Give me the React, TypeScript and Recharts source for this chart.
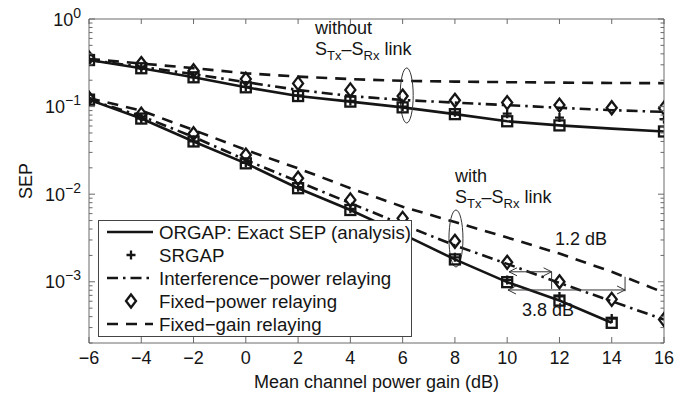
import React from 'react';
import { ComposedChart, Line, XAxis, YAxis, Legend, ReferenceDot, ReferenceLine } from 'recharts';

// ---------- data ----------
const gainDb = [-6, -4, -2, 0, 2, 4, 6, 8, 10, 12, 14, 16];

// without S_Tx-S_Rx link (upper group)
const orgapWithout = [0.34, 0.274, 0.216, 0.166, 0.132, 0.114, 0.098, 0.082, 0.068, 0.061, 0.056, 0.052];
const orgapSimWithout = [0.34, 0.274, 0.216, 0.166, 0.132, 0.114, 0.098, 0.082, 0.068, 0.061, null, 0.052];
const srgapWithout = [0.34, 0.274, 0.216, 0.168, 0.134, 0.116, 0.1, 0.086, 0.083, 0.075, null, 0.072];
const interfWithout = [0.34, 0.285, 0.235, 0.19, 0.155, 0.132, 0.119, 0.111, 0.104, 0.097, 0.091, 0.087];
const fixedPowWithout = [0.36, 0.31, 0.257, 0.206, 0.184, 0.155, 0.132, 0.118, 0.111, 0.104, 0.097, 0.096];
const fixedGainWithout = [0.35, 0.31, 0.275, 0.24, 0.22, 0.206, 0.197, 0.193, 0.19, 0.188, 0.186, 0.185];

// with S_Tx-S_Rx link (lower group)
const orgapWith = [0.12, 0.073, 0.04, 0.0225, 0.0117, 0.0066, 0.0035, 0.0018, 0.00099, 0.00061, 0.00034, null];
const orgapSimWith = [0.12, 0.073, 0.04, 0.0225, 0.0117, 0.0066, 0.0035, 0.0018, 0.00099, 0.00061, 0.00034, null];
const srgapWith = [0.12, 0.073, 0.04, 0.0228, 0.012, 0.0068, 0.0036, 0.0019, 0.00105, 0.00068, 0.00038, null];
const interfWith = [0.12, 0.078, 0.045, 0.0246, 0.0139, 0.0079, 0.0045, 0.0026, 0.0016, 0.00097, 0.0006, 0.00037];
const fixedPowWith = [0.125, 0.082, 0.049, 0.028, 0.0152, 0.0086, 0.0053, 0.0029, 0.00167, 0.001, 0.00063, 0.00037];
const fixedGainWith = [0.125, 0.09, 0.054, 0.032, 0.0197, 0.0117, 0.0072, 0.0048, 0.0032, 0.0021, 0.0013, 0.00075];

// ---------- ticks ----------
const xTicks = [-6, -4, -2, 0, 2, 4, 6, 8, 10, 12, 14, 16];
const xTickLabels = ['\u22126', '\u22124', '\u22122', '0', '2', '4', '6', '8', '10', '12', '14', '16'];
const yMajorTicks = [1, 0.1, 0.01, 0.001];
const yMajorExponents = ['0', '\u22121', '\u22122', '\u22123'];
const yMinorTicks = [
  0.0002, 0.0003, 0.0004, 0.0005, 0.0006, 0.0007, 0.0008, 0.0009,
  0.002, 0.003, 0.004, 0.005, 0.006, 0.007, 0.008, 0.009,
  0.02, 0.03, 0.04, 0.05, 0.06, 0.07, 0.08, 0.09,
  0.2, 0.3, 0.4, 0.5, 0.6, 0.7, 0.8, 0.9,
];
const yTicks = [...yMinorTicks, ...yMajorTicks];
const yDomain = [0.0002, 1];
const xDomain = [-6, 16];

const data = gainDb.map((x, i) => ({
  x,
  orgapWithout: orgapWithout[i],
  orgapSimWithout: orgapSimWithout[i],
  srgapWithout: srgapWithout[i],
  interfWithout: interfWithout[i],
  fixedPowWithout: fixedPowWithout[i],
  fixedGainWithout: fixedGainWithout[i],
  orgapWith: orgapWith[i],
  orgapSimWith: orgapSimWith[i],
  srgapWith: srgapWith[i],
  interfWith: interfWith[i],
  fixedPowWith: fixedPowWith[i],
  fixedGainWith: fixedGainWith[i],
}));

// ---------- styles ----------
const FONT = '"Liberation Sans", Arial, Helvetica, sans-serif';
const INK = '#151515';
const FRAME = '#6a6a6a';
const LW = 2.6;
const MW = 2.3;
const DASH = '11 8';
const DASHDOT = '11 5 2.5 5';

const majorIndex = (v: number) => yMajorTicks.findIndex((m) => Math.abs(m - v) / m < 1e-6);

const LeftTick = (props: any) => {
  const { x, y, payload } = props;
  const mi = majorIndex(payload.value);
  const major = mi >= 0;
  return (
    <g>
      <line x1={x} x2={x + (major ? 6 : 3.5)} y1={y} y2={y} stroke={FRAME} strokeWidth={1} />
      {major && (
        <text x={x - 8} y={y + 6.5} textAnchor="end" fontFamily={FONT} fontSize={18} fill={INK}>
          10
          <tspan dy={-8} fontSize={14}>{yMajorExponents[mi]}</tspan>
        </text>
      )}
    </g>
  );
};

const RightTick = (props: any) => {
  const { x, y, payload } = props;
  const major = majorIndex(payload.value) >= 0;
  return <line x1={x} x2={x - (major ? 6 : 3.5)} y1={y} y2={y} stroke={FRAME} strokeWidth={1} />;
};

const BottomTick = (props: any) => {
  const { x, y, payload } = props;
  const idx = xTicks.indexOf(payload.value);
  return (
    <g>
      <line x1={x} x2={x} y1={y} y2={y - 6} stroke={FRAME} strokeWidth={1} />
      <text x={x} y={y + 20.5} textAnchor="middle" fontFamily={FONT} fontSize={18} fill={INK}>
        {xTickLabels[idx]}
      </text>
    </g>
  );
};

const TopTick = (props: any) => {
  const { x, y } = props;
  return <line x1={x} x2={x} y1={y} y2={y + 5} stroke={FRAME} strokeWidth={1} />;
};

// ---------- markers ----------
const squareDot = (p: any) => {
  const { cx, cy, index } = p;
  if (cx == null || cy == null || isNaN(cy)) return <g key={`sq-${index}`} />;
  return (
    <rect key={`sq-${index}`} x={cx - 5} y={cy - 5} width={10} height={10} fill="none" stroke={INK} strokeWidth={MW} />
  );
};
const plusDot = (p: any) => {
  const { cx, cy, index } = p;
  if (cx == null || cy == null || isNaN(cy)) return <g key={`pl-${index}`} />;
  return (
    <path key={`pl-${index}`} d={`M${cx - 4.5},${cy}H${cx + 4.5}M${cx},${cy - 4.5}V${cy + 4.5}`} stroke={INK} strokeWidth={MW} fill="none" />
  );
};
const diamondDot = (p: any) => {
  const { cx, cy, index } = p;
  if (cx == null || cy == null || isNaN(cy)) return <g key={`dm-${index}`} />;
  return (
    <path key={`dm-${index}`} d={`M${cx},${cy - 6.5}L${cx + 5},${cy}L${cx},${cy + 6.5}L${cx - 5},${cy}Z`} stroke={INK} strokeWidth={MW} fill="none" />
  );
};

// ---------- annotations ----------
const linkLabel = (first: string) => (p: any) => (
  <text x={p.cx} y={p.cy} fontFamily={FONT} fontSize={18} fill={INK}>
    <tspan x={p.cx}>{first}</tspan>
    <tspan x={p.cx} dy={21}>S</tspan>
    <tspan dy={5} fontSize={13}>Tx</tspan>
    <tspan dy={-5}>–S</tspan>
    <tspan dy={5} fontSize={13}>Rx</tspan>
    <tspan dy={-5}> link</tspan>
  </text>
);
const plainText = (label: string) => (p: any) => (
  <text x={p.cx} y={p.cy} fontFamily={FONT} fontSize={18} fill={INK}>
    {label}
  </text>
);

const ellipseShape = (rx: number, ry: number) => (p: any) => (
  <ellipse cx={p.cx} cy={p.cy} rx={rx} ry={ry} fill="none" stroke="#333" strokeWidth={1} />
);

const arrowShape = (p: any) => {
  const { x1, y1, x2, y2 } = p;
  return (
    <g stroke="#333" strokeWidth={1} fill="none">
      <line x1={x1} y1={y1} x2={x2} y2={y2} />
      <polyline points={`${x1 + 8},${y1 - 4} ${x1},${y1} ${x1 + 8},${y1 + 4}`} />
      <polyline points={`${x2 - 8},${y2 - 4} ${x2},${y2} ${x2 - 8},${y2 + 4}`} />
    </g>
  );
};
const plainShape = (p: any) => (
  <line x1={p.x1} y1={p.y1} x2={p.x2} y2={p.y2} stroke="#333" strokeWidth={1} />
);

// ---------- legend ----------
const legendRows = [
  { label: 'ORGAP: Exact SEP (analysis)', kind: 'solid' },
  { label: 'SRGAP', kind: 'plus' },
  { label: 'Interference\u2212power relaying', kind: 'dashdot' },
  { label: 'Fixed\u2212power relaying', kind: 'diamond' },
  { label: 'Fixed\u2212gain relaying', kind: 'dash' },
];

const LegendBox = () => (
  <svg width={314} height={117} style={{ display: 'block' }}>
    <rect x={0.5} y={0.5} width={313} height={116} fill="#fff" stroke="#444" strokeWidth={1} />
    {legendRows.map((r, i) => {
      const cy = 12 + 23 * i;
      let sample: React.ReactNode = null;
      if (r.kind === 'solid') sample = <line x1={9} x2={55} y1={cy} y2={cy} stroke={INK} strokeWidth={LW} />;
      if (r.kind === 'dash') sample = <line x1={9} x2={55} y1={cy} y2={cy} stroke={INK} strokeWidth={LW} strokeDasharray={DASH} />;
      if (r.kind === 'dashdot') sample = <line x1={9} x2={55} y1={cy} y2={cy} stroke={INK} strokeWidth={LW} strokeDasharray={DASHDOT} />;
      if (r.kind === 'plus') sample = plusDot({ cx: 33, cy, index: 'lg' });
      if (r.kind === 'diamond') sample = diamondDot({ cx: 33, cy, index: 'lg' });
      return (
        <g key={r.label}>
          {sample}
          <text x={61} y={cy + 6.7} fontFamily={FONT} fontSize={18.7} fill={INK}>{r.label}</text>
        </g>
      );
    })}
  </svg>
);

export default function App() {
  const common = { isAnimationActive: false, activeDot: false as const, legendType: 'none' as const };
  return (
    <div style={{ position: 'absolute', left: 0, top: 0, width: 691, height: 396, background: '#fff' }}>
      <ComposedChart width={691} height={396} data={data} margin={{ top: 0, right: 0, bottom: 0, left: 0 }}>
        <XAxis
          dataKey="x"
          type="number"
          domain={xDomain}
          ticks={xTicks}
          interval={0}
          height={53}
          tickSize={0}
          tickMargin={0}
          tickLine={false}
          tick={<BottomTick />}
          axisLine={{ stroke: FRAME, strokeWidth: 1 }}
          allowDataOverflow
          label={{
            content: (p: any) => (
              <text
                x={p.viewBox.x + p.viewBox.width / 2}
                y={p.viewBox.y + 45}
                textAnchor="middle"
                fontFamily={FONT}
                fontSize={18}
                fill={INK}
              >
                Mean channel power gain (dB)
              </text>
            ),
          }}
        />
        <XAxis
          xAxisId="top"
          orientation="top"
          dataKey="x"
          type="number"
          domain={xDomain}
          ticks={xTicks}
          interval={0}
          height={19}
          tickSize={0}
          tickMargin={0}
          tickLine={false}
          tick={<TopTick />}
          axisLine={{ stroke: FRAME, strokeWidth: 1 }}
          allowDataOverflow
        />
        <YAxis
          type="number"
          scale="log"
          domain={yDomain}
          ticks={yTicks}
          interval={0}
          width={89}
          tickSize={0}
          tickMargin={0}
          tickLine={false}
          tick={<LeftTick />}
          axisLine={{ stroke: FRAME, strokeWidth: 1 }}
          allowDataOverflow
          label={{
            content: (p: any) => (
              <text
                transform={`translate(${p.viewBox.x + 26}, ${p.viewBox.y + p.viewBox.height / 2}) rotate(-90)`}
                textAnchor="middle"
                dominantBaseline="central"
                fontFamily={FONT}
                fontSize={18}
                fill={INK}
              >
                SEP
              </text>
            ),
          }}
        />
        <YAxis
          yAxisId="right"
          orientation="right"
          type="number"
          scale="log"
          domain={yDomain}
          ticks={yTicks}
          interval={0}
          width={27}
          tickSize={0}
          tickMargin={0}
          tickLine={false}
          tick={<RightTick />}
          axisLine={{ stroke: FRAME, strokeWidth: 1 }}
          allowDataOverflow
        />

        <Legend
          verticalAlign="middle"
          align="center"
          layout="horizontal"
          content={() => <LegendBox />}
          wrapperStyle={{ position: 'absolute', left: 98, top: 220, width: 314, height: 117 }}
        />

        {/* hidden series to bind the mirrored axes */}
        <Line {...common} xAxisId="top" yAxisId="right" dataKey="fixedGainWithout" stroke="none" dot={false} />

        {/* lines */}
        <Line {...common} dataKey="fixedGainWithout" stroke={INK} strokeWidth={LW} strokeDasharray={DASH} dot={false} />
        <Line {...common} dataKey="fixedGainWith" stroke={INK} strokeWidth={LW} strokeDasharray={DASH} dot={false} />
        <Line {...common} dataKey="interfWithout" stroke={INK} strokeWidth={LW} strokeDasharray={DASHDOT} dot={false} />
        <Line {...common} dataKey="interfWith" stroke={INK} strokeWidth={LW} strokeDasharray={DASHDOT} dot={false} />
        <Line {...common} dataKey="orgapWithout" stroke={INK} strokeWidth={LW} dot={false} />
        <Line {...common} dataKey="orgapWith" stroke={INK} strokeWidth={LW} dot={false} />

        {/* markers */}
        <Line {...common} dataKey="orgapSimWithout" stroke="none" dot={squareDot} />
        <Line {...common} dataKey="orgapSimWith" stroke="none" dot={squareDot} />
        <Line {...common} dataKey="srgapWithout" stroke="none" dot={plusDot} />
        <Line {...common} dataKey="srgapWith" stroke="none" dot={plusDot} />
        <Line {...common} dataKey="fixedPowWithout" stroke="none" dot={diamondDot} />
        <Line {...common} dataKey="fixedPowWith" stroke="none" dot={diamondDot} />

        {/* annotations */}
        <ReferenceDot x={2.647} y={0.68} r={1} shape={linkLabel('without')} />
        <ReferenceDot x={6.155} y={0.134} r={1} shape={ellipseShape(6.5, 27.5)} />
        <ReferenceDot x={8.004} y={0.0136} r={1} shape={linkLabel('with')} />
        <ReferenceDot x={8.04} y={0.00312} r={1} shape={ellipseShape(7, 28.5)} />
        <ReferenceDot x={11.83} y={0.00263} r={1} shape={plainText('1.2 dB')} />
        <ReferenceDot x={10.57} y={0.000407} r={1} shape={plainText('3.8 dB')} />

        <ReferenceLine segment={[{ x: 10.07, y: 0.0013 }, { x: 11.7, y: 0.0013 }]} shape={arrowShape} />
        <ReferenceLine segment={[{ x: 11.7, y: 0.0013 }, { x: 11.7, y: 0.000828 }]} shape={plainShape} />
        <ReferenceLine segment={[{ x: 10.03, y: 0.000806 }, { x: 14.51, y: 0.000806 }]} shape={arrowShape} />
        <ReferenceLine segment={[{ x: 14.51, y: 0.00114 }, { x: 14.51, y: 0.00078 }]} shape={plainShape} />
      </ComposedChart>
    </div>
  );
}
